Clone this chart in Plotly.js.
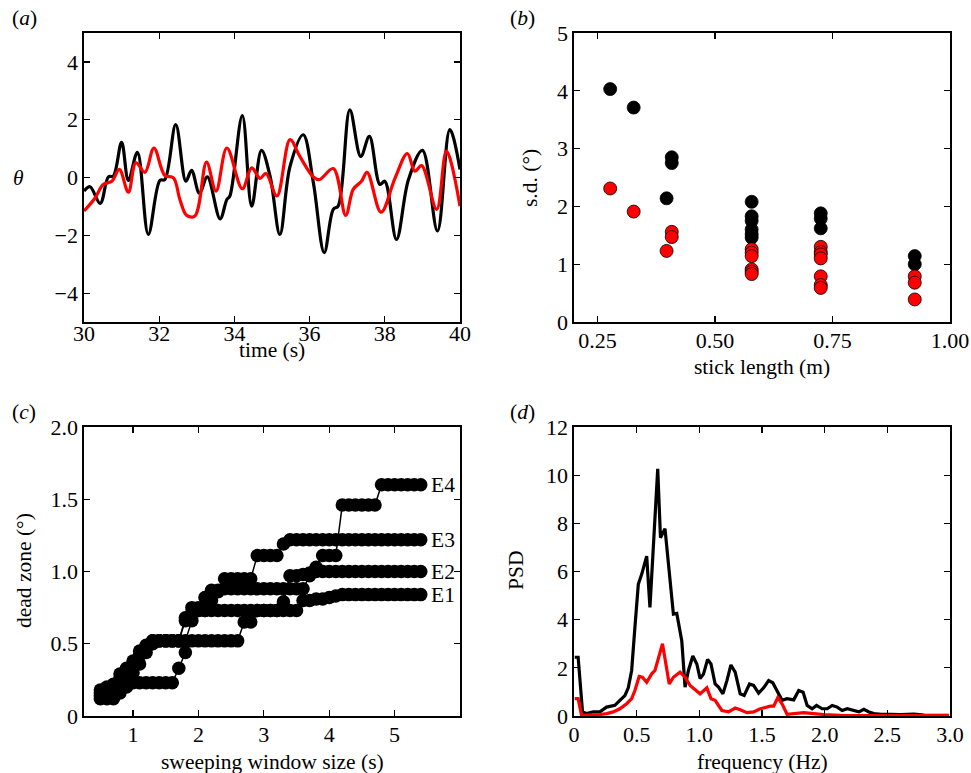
<!DOCTYPE html>
<html>
<head>
<meta charset="utf-8">
<script src="https://cdn.plot.ly/plotly-3.0.1.min.js"></script>
<style>
html,body{margin:0;padding:0;background:#fff;}
#chart{width:971px;height:773px;}
</style>
</head>
<body>
<div id="chart"></div>
<script>
// ---------- Panel (a): angle time series ----------
var timeBlack = [30.0, 30.16, 30.43, 30.65, 30.78, 31.0, 31.18, 31.42, 31.71, 32.02, 32.15, 32.44, 32.71, 32.86, 33.07, 33.28, 33.62, 33.8, 33.88, 34.21, 34.46, 34.72, 34.95, 35.21, 35.48, 35.83, 36.1, 36.39, 36.63, 36.76, 37.07, 37.36, 37.59, 37.87, 38.0, 38.31, 38.63, 39.0, 39.4, 39.73, 40.0];
var thetaBlack = [-0.47, -0.32, -0.9, 0.02, 0.05, 1.22, -0.1, 0.87, -1.97, -0.1, -0.07, 1.83, -0.13, 0.25, -0.55, 0.02, -1.43, -0.76, -0.64, 2.14, -0.99, 0.94, 0.04, -1.97, 0.39, 1.48, -0.18, -2.6, -1.1, -0.99, 2.34, 0.73, 1.42, -0.24, -0.13, -2.14, -0.07, 0.94, -1.85, 1.66, 0.28];
var timeRed = [30.0, 30.3, 30.51, 30.74, 30.94, 31.18, 31.38, 31.62, 31.86, 32.15, 32.38, 32.55, 32.73, 32.95, 33.26, 33.51, 33.8, 34.21, 34.46, 34.68, 34.84, 35.13, 35.48, 35.74, 36.1, 36.26, 36.63, 36.96, 37.16, 37.38, 37.53, 37.9, 38.27, 38.6, 38.8, 38.98, 39.38, 39.64, 40.0];
var thetaRed = [-1.16, -0.7, -0.24, -0.13, 0.28, -0.51, 0.51, 0.18, 1.02, 0.07, -0.01, -0.76, -1.31, -1.33, 0.53, -0.47, 1.02, -0.39, 0.33, -0.03, 0.14, -0.64, 1.31, 0.73, 0.02, -0.07, 0.31, -1.31, -0.41, -0.13, 0.18, -1.2, -0.03, 0.83, 0.22, 0.41, -1.1, 0.91, -0.99];

// ---------- Panel (b): s.d. vs stick length ----------
var lengthBlack = [0.277, 0.327, 0.397, 0.408, 0.408, 0.578, 0.578, 0.578, 0.578, 0.578, 0.578, 0.725, 0.725, 0.725, 0.925, 0.925];
var sdBlack = [4.03, 3.71, 2.14, 2.85, 2.75, 2.08, 1.83, 1.75, 1.60, 1.52, 1.46, 1.88, 1.79, 1.62, 1.14, 1.00];
var lengthRed = [0.277, 0.327, 0.397, 0.408, 0.408, 0.578, 0.578, 0.578, 0.578, 0.578, 0.578, 0.725, 0.725, 0.725, 0.725, 0.725, 0.725, 0.725, 0.925, 0.925, 0.925];
var sdRed = [2.31, 1.91, 1.23, 1.56, 1.47, 1.26, 1.20, 1.14, 0.91, 0.87, 0.83, 1.30, 1.21, 1.17, 1.10, 0.79, 0.64, 0.59, 0.79, 0.68, 0.39];

// ---------- Panel (c): dead zone vs sweeping window size ----------
var windowSize = [0.5,0.6,0.7,0.8,0.9,1.0,1.1,1.2,1.3,1.4,1.5,1.6,1.7,1.8,1.9,2.0,2.1,2.2,2.3,2.4,2.5,2.6,2.7,2.8,2.9,3.0,3.1,3.2,3.3,3.4,3.5,3.6,3.7,3.8,3.9,4.0,4.1,4.2,4.3,4.4,4.5,4.6,4.7,4.8,4.9,5.0,5.1,5.2,5.3,5.4];
var deadE1 = [0.14,0.12,0.12,0.16,0.20,0.23,0.23,0.23,0.23,0.23,0.23,0.23,0.33,0.44,0.52,0.52,0.52,0.52,0.52,0.52,0.52,0.52,0.65,0.65,0.73,0.73,0.73,0.73,0.73,0.73,0.73,0.80,0.80,0.81,0.81,0.82,0.83,0.84,0.84,0.84,0.84,0.84,0.84,0.84,0.84,0.84,0.84,0.84,0.84,0.84];
var deadE2 = [0.18,0.20,0.22,0.29,0.33,0.38,0.45,0.49,0.52,0.52,0.52,0.52,0.52,0.66,0.72,0.73,0.73,0.73,0.73,0.73,0.73,0.73,0.73,0.73,0.73,0.73,0.73,0.73,0.79,0.97,0.97,0.98,0.99,1.00,1.00,1.00,1.00,1.00,1.00,1.00,1.00,1.00,1.00,1.00,1.00,1.00,1.00,1.00,1.00,1.00];
var deadE3 = [0.16,0.17,0.20,0.26,0.31,0.36,0.42,0.47,0.52,0.52,0.52,0.52,0.52,0.68,0.75,0.75,0.82,0.87,0.87,0.95,0.95,0.95,0.95,0.95,1.11,1.11,1.11,1.11,1.19,1.22,1.22,1.22,1.22,1.22,1.22,1.22,1.22,1.22,1.22,1.22,1.22,1.22,1.22,1.22,1.22,1.22,1.22,1.22,1.22,1.22];
var deadE4 = [0.12,0.13,0.15,0.20,0.25,0.30,0.36,0.44,0.50,0.52,0.52,0.52,0.52,0.52,0.66,0.73,0.73,0.80,0.86,0.88,0.88,0.88,0.88,0.88,0.88,0.88,0.88,0.88,0.88,0.88,0.88,0.88,0.97,1.03,1.11,1.11,1.11,1.46,1.46,1.46,1.46,1.46,1.46,1.60,1.60,1.60,1.60,1.60,1.60,1.60];
var seriesLabels = ['E1', 'E2', 'E3', 'E4'];

// ---------- Panel (d): power spectral density ----------
var freqBlack = [0.006,0.033,0.068,0.1,0.153,0.206,0.26,0.286,0.326,0.366,0.406,0.433,0.46,0.486,0.513,0.54,0.58,0.606,0.668,0.69,0.726,0.793,0.82,0.86,0.886,0.913,0.948,0.98,1.006,1.033,1.066,1.093,1.126,1.153,1.188,1.22,1.252,1.286,1.326,1.358,1.4,1.433,1.473,1.513,1.553,1.586,1.62,1.66,1.7,1.753,1.793,1.828,1.86,1.9,1.935,1.98,2.02,2.06,2.1,2.14,2.18,2.22,2.273,2.313,2.353,2.393,2.45,2.53,2.606,2.713,2.793,2.9,2.99];
var psdBlack = [2.44,2.44,0.17,0.1,0.17,0.17,0.37,0.4,0.44,0.65,0.85,1.17,1.89,3.68,5.47,5.88,6.64,4.51,10.26,7.4,7.78,4.23,4.26,3.12,1.2,1.89,2.49,2.16,1.55,1.74,2.35,2.16,1.33,1.2,0.92,1.47,2.12,1.82,0.92,0.85,1.33,1.27,0.95,1.17,1.47,1.38,1.06,0.65,0.72,0.67,1.06,0.99,0.44,0.3,0.44,0.3,0.3,0.44,0.37,0.23,0.3,0.23,0.17,0.28,0.17,0.1,0.07,0.07,0.06,0.08,0.04,0.03,0.03];
var freqRed = [0.006,0.033,0.06,0.126,0.206,0.26,0.313,0.366,0.42,0.46,0.486,0.52,0.546,0.58,0.62,0.646,0.706,0.76,0.793,0.846,0.886,0.926,1.006,1.06,1.093,1.126,1.18,1.233,1.286,1.326,1.38,1.433,1.486,1.566,1.593,1.626,1.66,1.7,1.753,1.833,1.913,1.993,2.126,2.393,2.99];
var psdRed = [0.72,0.72,0.03,0.03,0.06,0.1,0.17,0.3,0.51,0.72,1.06,1.64,1.61,1.4,1.75,1.89,3.0,1.33,1.61,1.82,1.61,1.27,0.92,1.17,0.72,0.65,0.23,0.17,0.33,0.26,0.14,0.17,0.3,0.41,0.41,0.76,0.51,0.07,0.1,0.14,0.1,0.06,0.03,0.03,0.02];

// ---------- Tick labels ----------
var ticksBx = [0.25, 0.5, 0.75, 1.0];
var ticksBxText = ['0.25', '0.50', '0.75', '1.00'];
var ticksCy = [0, 0.5, 1.0, 1.5, 2.0];
var ticksCyText = ['0', '0.5', '1.0', '1.5', '2.0'];
var ticksDx = [0, 0.5, 1.0, 1.5, 2.0, 2.5, 3.0];
var ticksDxText = ['0', '0.5', '1.0', '1.5', '2.0', '2.5', '3.0'];

// ---------- Build ----------
var FONT = '"Liberation Serif", "Times New Roman", Times, serif';
var FS = 22;
var FT = 21.5;
var W = 971, H = 773;
function px(x) { return x / W; }
function py(y) { return 1 - y / H; }

var RED = '#ff0000';
var traces = [];
traces.push({x: timeBlack, y: thetaBlack, xaxis: 'x', yaxis: 'y', mode: 'lines',
  line: {color: 'black', width: 3.2, shape: 'spline', smoothing: 1}});
traces.push({x: timeRed, y: thetaRed, xaxis: 'x', yaxis: 'y', mode: 'lines',
  line: {color: RED, width: 3.2, shape: 'spline', smoothing: 1}});

traces.push({x: lengthBlack, y: sdBlack, xaxis: 'x2', yaxis: 'y2', mode: 'markers',
  marker: {color: 'black', size: 13, line: {color: 'black', width: 0.8}}});
traces.push({x: lengthRed, y: sdRed, xaxis: 'x2', yaxis: 'y2', mode: 'markers',
  marker: {color: RED, size: 13, line: {color: 'black', width: 0.8}}});

[deadE1, deadE2, deadE3, deadE4].forEach(function (d) {
  traces.push({x: windowSize, y: d, xaxis: 'x3', yaxis: 'y3', mode: 'lines+markers',
    line: {color: 'black', width: 1.5},
    marker: {color: 'black', size: 13.5, line: {width: 0}}});
});

traces.push({x: freqBlack, y: psdBlack, xaxis: 'x4', yaxis: 'y4', mode: 'lines',
  line: {color: 'black', width: 3.2}});
traces.push({x: freqRed, y: psdRed, xaxis: 'x4', yaxis: 'y4', mode: 'lines',
  line: {color: RED, width: 3.2}});

function ax(extra) {
  var base = {showline: true, linecolor: 'black', linewidth: 1.6, mirror: 'ticks',
    ticks: 'inside', ticklen: 6, tickwidth: 1.2, tickcolor: 'black',
    showgrid: false, zeroline: false, fixedrange: true,
    tickfont: {family: FONT, size: FS, color: 'black'}};
  for (var k in extra) base[k] = extra[k];
  return base;
}

var colL = [px(84), px(460)], colR = [px(574), px(950)];
var rowT = [py(322), py(33)], rowB = [py(716), py(427)];

var annos = [];
function txt(x, y, text, opts) {
  var a = {xref: 'paper', yref: 'paper', x: px(x), y: py(y), text: text, showarrow: false,
    font: {family: FONT, size: FT, color: 'black'}, xanchor: 'center', yanchor: 'middle'};
  if (opts) for (var k in opts) a[k] = opts[k];
  annos.push(a);
}
txt(24, 18, '(<i>a</i>)');
txt(522, 18, '(<i>b</i>)');
txt(24, 412, '(<i>c</i>)');
txt(522, 412, '(<i>d</i>)');
txt(272, 350, 'time (s)');
txt(18, 178, '<i>θ</i>');
txt(762, 367, 'stick length (m)');
txt(530, 178, 's.d. (°)', {textangle: -90});
txt(272, 762, 'sweeping window size (s)');
txt(24, 571, 'dead zone (°)', {textangle: -90});
txt(516, 571, 'PSD', {textangle: -90});
txt(762, 762, 'frequency (Hz)');

var finals = [deadE1[deadE1.length - 1], deadE2[deadE2.length - 1], deadE3[deadE3.length - 1], deadE4[deadE4.length - 1]];
seriesLabels.forEach(function (s, i) {
  annos.push({xref: 'x3', yref: 'y3', x: 5.53, y: finals[i], text: s, showarrow: false,
    xanchor: 'left', yanchor: 'middle', font: {family: FONT, size: FT, color: 'black'}});
});

var layout = {
  width: W, height: H,
  margin: {l: 0, r: 0, t: 0, b: 0},
  paper_bgcolor: 'white', plot_bgcolor: 'white',
  showlegend: false,
  font: {family: FONT, size: FS, color: 'black'},
  xaxis: ax({domain: colL, anchor: 'y', range: [30, 40], dtick: 2, tick0: 30, ticklabelstandoff: -9}),
  yaxis: ax({domain: rowT, anchor: 'x', range: [-5, 5], dtick: 2, tick0: 0}),
  xaxis2: ax({domain: colR, anchor: 'y2', range: [0.2, 1.0], tickvals: ticksBx, ticktext: ticksBxText, ticklabelstandoff: -2}),
  yaxis2: ax({domain: rowT, anchor: 'x2', range: [0, 5], dtick: 1}),
  xaxis3: ax({domain: colL, anchor: 'y3', range: [0.25, 6], tickvals: [1, 2, 3, 4, 5], ticklabelstandoff: -2}),
  yaxis3: ax({domain: rowB, anchor: 'x3', range: [0, 2], tickvals: ticksCy, ticktext: ticksCyText}),
  xaxis4: ax({domain: colR, anchor: 'y4', range: [0, 3], tickvals: ticksDx, ticktext: ticksDxText, ticklabelstandoff: -2}),
  yaxis4: ax({domain: rowB, anchor: 'x4', range: [0, 12], dtick: 2}),
  annotations: annos
};

Plotly.newPlot('chart', traces, layout, {staticPlot: true, displayModeBar: false});
</script>
</body>
</html>
